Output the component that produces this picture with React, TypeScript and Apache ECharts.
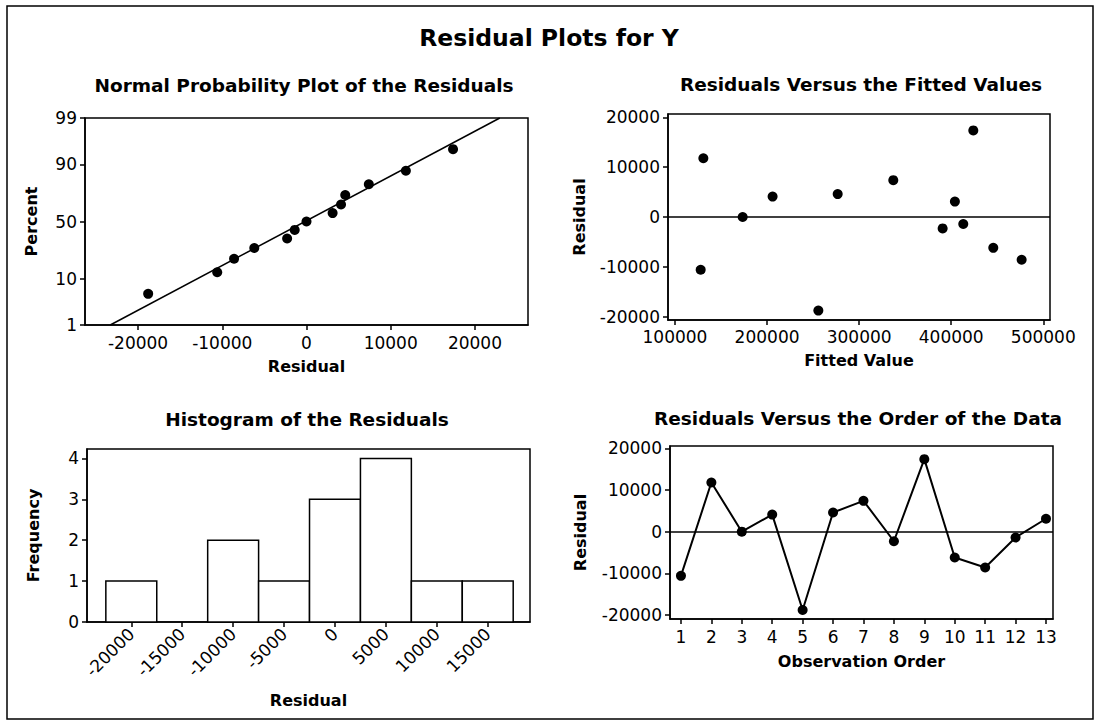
import React, { useEffect, useRef } from "react";
import * as echarts from "echarts";

// ---- data ----
const observationOrder = [1, 2, 3, 4, 5, 6, 7, 8, 9, 10, 11, 12, 13];
const residuals = [-10600, 11800, 0, 4100, -18800, 4600, 7400, -2300, 17400, -6200, -8600, -1400, 3100];
const fittedValues = [127900, 130800, 173500, 206000, 255700, 276700, 337100, 390700, 424000, 445700, 476500, 413100, 404000];
const nppPercent = [5.2, 12.7, 20.1, 27.6, 35.1, 42.5, 50, 57.5, 64.9, 72.4, 79.9, 87.3, 94.8];
const fitLineResidual = [-23300, 22950];
const fitLinePercent = [1, 99];
const histBinCenters = [-20000, -15000, -10000, -5000, 0, 5000, 10000, 15000];
const histCounts = [1, 0, 2, 1, 3, 4, 1, 1];
const histBinWidth = 5000;
const percentTicks = [1, 10, 50, 90, 99];
const residualTicksNpp = [-20000, -10000, 0, 10000, 20000];
const residualTicksY = [-20000, -10000, 0, 10000, 20000];
const fittedTicks = [100000, 200000, 300000, 400000, 500000];
const freqTicks = [0, 1, 2, 3, 4];

// inverse standard normal CDF (probability-scale transform)
function normInv(p: number): number {
  const a = [-3.969683028665376e1, 2.209460984245205e2, -2.759285104469687e2, 1.38357751867269e2, -3.066479806614716e1, 2.506628277459239];
  const b = [-5.447609879822406e1, 1.615858368580409e2, -1.556989798598866e2, 6.680131188771972e1, -1.328068155288572e1];
  const c = [-7.784894002430293e-3, -3.223964580411365e-1, -2.400758277161838, -2.549732539343734, 4.374664141464968, 2.938163982698783];
  const d = [7.784695709041462e-3, 3.224671290700398e-1, 2.445134137142996, 3.754408661907416];
  const pl = 0.02425;
  const ph = 1 - pl;
  let q: number, r: number;
  if (p < pl) {
    q = Math.sqrt(-2 * Math.log(p));
    return (((((c[0] * q + c[1]) * q + c[2]) * q + c[3]) * q + c[4]) * q + c[5]) / ((((d[0] * q + d[1]) * q + d[2]) * q + d[3]) * q + 1);
  }
  if (p <= ph) {
    q = p - 0.5;
    r = q * q;
    return ((((((a[0] * r + a[1]) * r + a[2]) * r + a[3]) * r + a[4]) * r + a[5]) * q) / (((((b[0] * r + b[1]) * r + b[2]) * r + b[3]) * r + b[4]) * r + 1);
  }
  q = Math.sqrt(-2 * Math.log(1 - p));
  return -(((((c[0] * q + c[1]) * q + c[2]) * q + c[3]) * q + c[4]) * q + c[5]) / ((((d[0] * q + d[1]) * q + d[2]) * q + d[3]) * q + 1);
}
const zOf = (pct: number) => normInv(pct / 100);

const FONT = "DejaVu Sans";
const BLACK = "#000";
const plain = (v: number) => String(Math.round(v));

function baseAxis(extra: any) {
  return {
    type: "value",
    axisLine: { show: true, onZero: false, lineStyle: { color: BLACK, width: 1.5 } },
    axisTick: { show: true, length: 5, lineStyle: { color: BLACK, width: 1.5 } },
    splitLine: { show: false },
    axisLabel: { color: BLACK, fontFamily: FONT, fontSize: 17, margin: 8, formatter: plain },
    nameLocation: "middle",
    nameTextStyle: { color: BLACK, fontFamily: FONT, fontWeight: "bold", fontSize: 16 },
    ...extra,
  };
}

function withCustom(axis: any, values: number[], labelExtra: any = {}) {
  axis.axisLabel = { ...axis.axisLabel, customValues: values, ...labelExtra };
  axis.axisTick = { ...axis.axisTick, customValues: values };
  return axis;
}

function titleText(text: string, x: number, y: number, size: number) {
  return {
    type: "text",
    x,
    y,
    silent: true,
    style: {
      text,
      fill: BLACK,
      font: `bold ${size}px "${FONT}"`,
      textAlign: "center",
      textVerticalAlign: "middle",
      align: "center",
      verticalAlign: "middle",
    },
  };
}

export default function App() {
  const ref = useRef<HTMLDivElement>(null);

  useEffect(() => {
    if (!ref.current) return;
    const chart = echarts.init(ref.current, undefined, { renderer: "svg" });

    const sortedResiduals = [...residuals].sort((a, b) => a - b);
    const nppData = sortedResiduals.map((r, i) => [r, zOf(nppPercent[i])]);
    const fitData = fitLineResidual.map((r, i) => [r, zOf(fitLinePercent[i])]);
    const fittedData = fittedValues.map((f, i) => [f, residuals[i]]);
    const orderData = observationOrder.map((o, i) => [o, residuals[i]]);
    const histData = histBinCenters.map((c, i) => [c - histBinWidth / 2, c + histBinWidth / 2, histCounts[i]]);
    const zTicks = percentTicks.map(zOf);

    const gridStyle = { show: true, borderColor: BLACK, borderWidth: 1.5, backgroundColor: "transparent" };
    const zeroLine = {
      silent: true,
      symbol: "none",
      label: { show: false },
      lineStyle: { color: BLACK, width: 1.5, type: "solid" },
      data: [{ yAxis: 0 }],
    };

    const option: any = {
      animation: false,
      backgroundColor: "#fff",
      textStyle: { fontFamily: FONT },
      graphic: [
        {
          type: "rect",
          silent: true,
          shape: { x: 7, y: 6, width: 1086, height: 713 },
          style: { fill: "none", stroke: BLACK, lineWidth: 1.5 },
        },
        titleText("Residual Plots for Y", 549, 38, 23.5),
        titleText("Normal Probability Plot of the Residuals", 304, 85, 18.5),
        titleText("Residuals Versus the Fitted Values", 861, 84, 18.5),
        titleText("Histogram of the Residuals", 307, 419, 18.5),
        titleText("Residuals Versus the Order of the Data", 858, 418, 18.5),
      ],
      grid: [
        { left: 85, top: 118, width: 443, height: 207, ...gridStyle },
        { left: 668, top: 114, width: 382, height: 206, ...gridStyle },
        { left: 87, top: 449, width: 443, height: 173, ...gridStyle },
        { left: 670, top: 446, width: 383, height: 173, ...gridStyle },
      ],
      xAxis: [
        withCustom(baseAxis({ gridIndex: 0, min: -26300, max: 26300, name: "Residual", nameGap: 33 }), residualTicksNpp, { margin: 9 }),
        withCustom(baseAxis({ gridIndex: 1, min: 92400, max: 507300, name: "Fitted Value", nameGap: 32 }), fittedTicks),
        withCustom(baseAxis({ gridIndex: 2, min: -24350, max: 19150, name: "Residual", nameGap: 70 }), histBinCenters, { rotate: 45, margin: 9 }),
        withCustom(baseAxis({ gridIndex: 3, min: 0.64, max: 13.23, name: "Observation Order", nameGap: 34 }), observationOrder, { margin: 9 }),
      ],
      yAxis: [
        withCustom(baseAxis({ gridIndex: 0, min: zTicks[0], max: zTicks[zTicks.length - 1], name: "Percent", nameGap: 46 }), zTicks, {
          formatter: (v: number) => {
            let best = 0;
            zTicks.forEach((z, i) => {
              if (Math.abs(z - v) < Math.abs(zTicks[best] - v)) best = i;
            });
            return String(percentTicks[best]);
          },
        }),
        withCustom(baseAxis({ gridIndex: 1, min: -20700, max: 20700, name: "Residual", nameGap: 81 }), residualTicksY),
        withCustom(baseAxis({ gridIndex: 2, min: 0, max: 4.23, name: "Frequency", nameGap: 46 }), freqTicks),
        withCustom(baseAxis({ gridIndex: 3, min: -20950, max: 20550, name: "Residual", nameGap: 82 }), residualTicksY),
      ],
      series: [
        {
          type: "line",
          xAxisIndex: 0,
          yAxisIndex: 0,
          data: fitData,
          showSymbol: false,
          lineStyle: { color: BLACK, width: 1.5 },
          silent: true,
        },
        {
          type: "scatter",
          xAxisIndex: 0,
          yAxisIndex: 0,
          data: nppData,
          symbol: "circle",
          symbolSize: 10,
          itemStyle: { color: BLACK, opacity: 1 },
        },
        {
          type: "scatter",
          xAxisIndex: 1,
          yAxisIndex: 1,
          data: fittedData,
          symbol: "circle",
          symbolSize: 10,
          itemStyle: { color: BLACK, opacity: 1 },
          markLine: zeroLine,
        },
        {
          type: "custom",
          xAxisIndex: 2,
          yAxisIndex: 2,
          data: histData,
          encode: { x: [0, 1], y: 2 },
          renderItem: (params: any, api: any) => {
            const lo = api.value(0);
            const hi = api.value(1);
            const n = api.value(2);
            if (!n) return null;
            const p0 = api.coord([lo, 0]);
            const p1 = api.coord([hi, n]);
            return {
              type: "rect",
              shape: { x: p0[0], y: p1[1], width: p1[0] - p0[0], height: p0[1] - p1[1] },
              style: { fill: "#fff", stroke: BLACK, lineWidth: 1.5 },
            };
          },
        },
        {
          type: "line",
          xAxisIndex: 3,
          yAxisIndex: 3,
          data: orderData,
          symbol: "circle",
          symbolSize: 10,
          showSymbol: true,
          itemStyle: { color: BLACK, opacity: 1 },
          lineStyle: { color: BLACK, width: 2 },
          markLine: zeroLine,
        },
      ],
    };

    chart.setOption(option);
    return () => chart.dispose();
  }, []);

  return (
    <div
      ref={ref}
      style={{ position: "absolute", left: 0, top: 0, width: 1101, height: 724, background: "#fff" }}
    />
  );
}
